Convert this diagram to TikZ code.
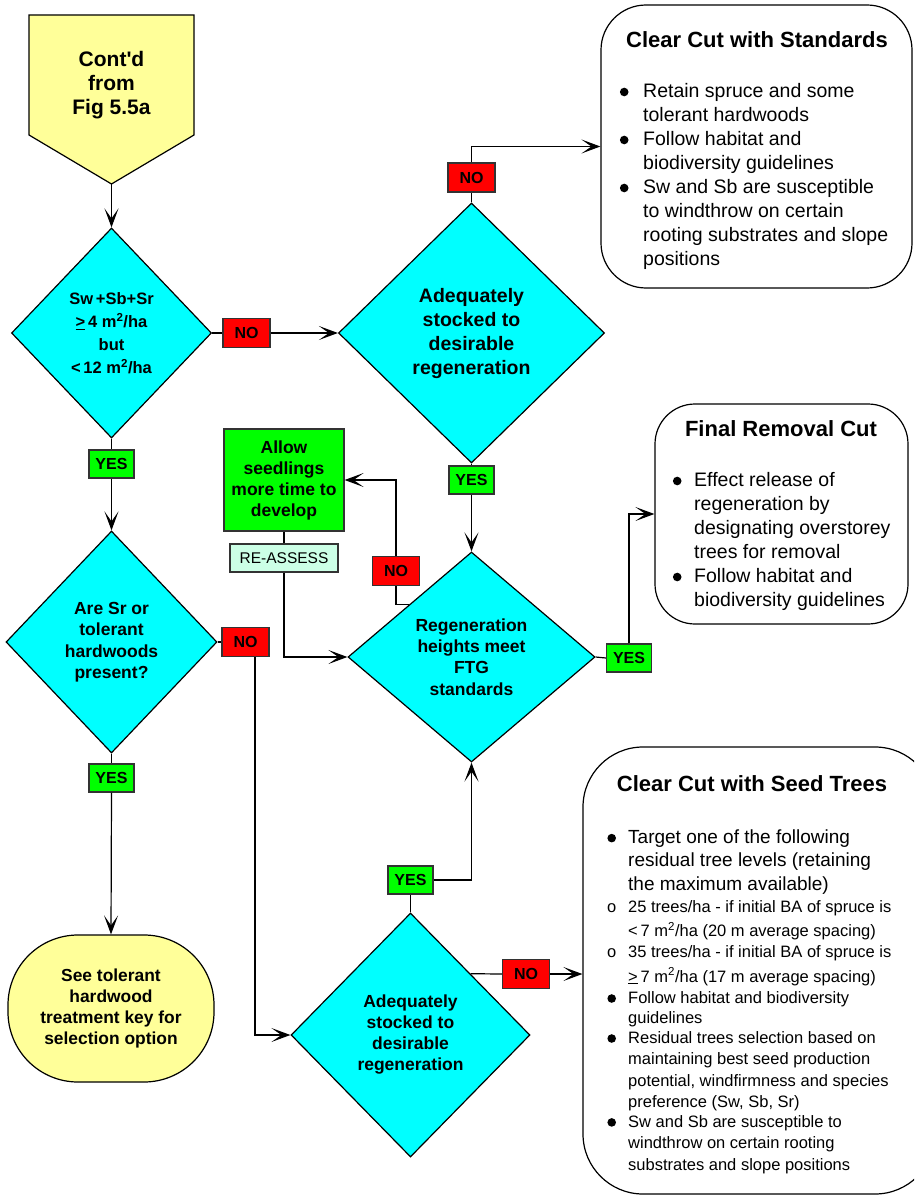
\documentclass[tikz,border=0pt]{standalone}
\usepackage{fontspec}
\setmainfont{Liberation Sans}
\usetikzlibrary{shapes.geometric,arrows.meta}

\definecolor{boxcyan}{RGB}{0,255,255}
\definecolor{boxred}{RGB}{255,0,0}
\definecolor{boxgreen}{RGB}{0,255,0}
\definecolor{paleyellow}{RGB}{255,255,153}
\definecolor{mint}{RGB}{204,255,230}

\newcommand{\fs}[2]{\fontsize{#1}{#2}\selectfont}
\newcommand{\bigdot}{\tikz[baseline=-5pt]\fill (0,0) circle (4.3pt);}
\newcommand{\itemdot}[1]{\makebox[#1]{\bigdot}}

\tikzset{
  decision/.style={diamond, draw, fill=boxcyan, inner sep=0pt, align=center},
  nobox/.style={draw=black!80, fill=boxred, font=\bfseries\fs{16}{18}, inner sep=0pt,
    minimum width=47pt, minimum height=29pt},
  yesbox/.style={nobox, fill=boxgreen, minimum width=45pt, minimum height=28pt},
  outcome/.style={draw, fill=white, rounded corners=45pt},
  boxtitle/.style={font=\bfseries\fs{22}{26}},
  flow/.style={-{Stealth[length=19pt,width=14pt,inset=10pt]}},
}

\begin{document}
\begin{tikzpicture}[x=1pt,y=-1pt,line width=1.2pt]
    \useasboundingbox (0,0) rectangle (914,1196);
    \clip (0,0) rectangle (914,1196);

    % off-page connector
    \draw[fill=paleyellow] (29,15) -- (194,15) -- (194,135) -- (111.5,184) -- (29,135) -- cycle;
    \node[font=\bfseries\fs{21}{24}, align=center] (contd) at (111.5,85) {Cont\textquotesingle d\\from\\Fig 5.5a};
    \coordinate (contdtip) at (111.5,184);

    % decisions
    \node[decision, minimum width=200pt, minimum height=210pt, font=\bfseries\fs{16.5}{23}] (basal) at (111.5,333)
        {Sw\,+Sb+Sr\\\underline{>}\,4 m\textsuperscript{2}/ha\\but\\<\,12 m\textsuperscript{2}/ha};
    \node[decision, minimum width=266pt, minimum height=260pt, font=\bfseries\fs{19.5}{24}] (stocked) at (471.5,333)
        {Adequately\\stocked to\\desirable\\regeneration};
    \node[decision, minimum width=247pt, minimum height=210pt, font=\bfseries\fs{17.5}{21.3}] (heights) at (471.5,657)
        {Regeneration\\heights meet\\FTG\\standards};
    \node[decision, minimum width=211pt, minimum height=222pt, font=\bfseries\fs{17.5}{21.5}] (present) at (111.5,642)
        {Are Sr or\\tolerant\\hardwoods\\present?};
    \node[decision, minimum width=239pt, minimum height=244pt, font=\bfseries\fs{17.5}{21}] (stockedlow) at (410.5,1035)
        {Adequately\\stocked to\\desirable\\regeneration};

    % answers
    \node[nobox] (no1) at (246.5,333) {NO};
    \node[nobox] (no2) at (471.5,177.5) {NO};
    \node[yesbox] (yes2) at (471.5,480) {YES};
    \node[yesbox] (yes1) at (111.5,464) {YES};
    \node[nobox] (no3) at (396,571) {NO};
    \node[yesbox] (yes3) at (629,658) {YES};
    \node[nobox] (no4) at (245.5,642) {NO};
    \node[yesbox] (yes4) at (111.5,778) {YES};
    \node[yesbox] (yes5) at (410.5,880) {YES};
    \node[nobox] (no5) at (526,974) {NO};

    % actions
    \node[draw=black!80, fill=boxgreen, minimum width=120pt, minimum height=102pt, inner sep=0pt, align=center,
        font=\bfseries\fs{17.5}{21}] (allow) at (284,480) {Allow\\seedlings\\more time to\\develop};
    \node[draw=black!80, fill=mint, minimum width=108pt, minimum height=28pt, inner sep=0pt,
        font=\fs{15.5}{18}] (reassess) at (284,558) {RE-ASSESS};
    \node[draw, fill=paleyellow, rounded corners=70pt, minimum width=206pt, minimum height=147pt, inner sep=0pt,
        align=center, font=\bfseries\fs{17.4}{20.8}] (seekey) at (111,1008.5)
        {See tolerant\\hardwood\\treatment key for\\selection option};

    % outcomes
    \node[outcome, minimum width=311pt, minimum height=283pt] (standards) at (756.5,146.5) {};
    \node[boxtitle] (standardstitle) at (757,40) {Clear Cut with Standards};
    \node[anchor=north west, inner sep=0pt, font=\fs{19.5}{24}] (standardslist) at (605,80) {%
        \begin{tabular}{@{}l@{}l@{}}
        \itemdot{38pt} & Retain spruce and some\\
         & tolerant hardwoods\\
        \itemdot{38pt} & Follow habitat and\\
         & biodiversity guidelines\\
        \itemdot{38pt} & Sw and Sb are susceptible\\
         & to windthrow on certain\\
         & rooting substrates and slope\\
         & positions
        \end{tabular}};

    \node[outcome, minimum width=253pt, minimum height=220pt, rounded corners=40pt] (removal) at (781.5,514) {};
    \node[boxtitle] (removaltitle) at (781,429) {Final Removal Cut};
    \node[anchor=north west, inner sep=0pt, font=\fs{19.5}{24}] (removallist) at (660,469) {%
        \begin{tabular}{@{}l@{}l@{}}
        \itemdot{34pt} & Effect release of\\
         & regeneration by\\
         & designating overstorey\\
         & trees for removal\\
        \itemdot{34pt} & Follow habitat and\\
         & biodiversity guidelines
        \end{tabular}};

    \node[outcome, minimum width=352pt, minimum height=447pt, rounded corners=60pt] (seedtrees) at (759,970.5) {};
    \node[boxtitle] (seedtitle) at (752,784) {Clear Cut with Seed Trees};
    \node[anchor=north west, inner sep=0pt, font=\fs{16.5}{21.3}] (seedlist) at (595,828) {%
        \begin{tabular}{@{}l@{}l@{}}
        \itemdot{33pt} & {\fs{19}{21.3}Target one of the following}\\[2.3pt]
         & {\fs{19}{21.3}residual tree levels (retaining}\\[2.3pt]
         & {\fs{19}{21.3}the maximum available)}\\[1.1pt]
        \makebox[33pt]{o} & 25 trees/ha - if initial BA of spruce is\\[2.3pt]
         & <\,7 m\textsuperscript{2}/ha (20 m average spacing)\\
        \makebox[33pt]{o} & 35 trees/ha - if initial BA of spruce is\\[3.3pt]
         & \underline{>}\,7 m\textsuperscript{2}/ha (17 m average spacing)\\
        \itemdot{33pt} & Follow habitat and biodiversity\\[-1.3pt]
         & guidelines\\[-1.3pt]
        \itemdot{33pt} & Residual trees selection based on\\
         & maintaining best seed production\\
         & potential, windfirmness and species\\
         & preference (Sw, Sb, Sr)\\[-1.3pt]
        \itemdot{33pt} & Sw and Sb are susceptible to\\
         & windthrow on certain rooting\\
         & substrates and slope positions
        \end{tabular}};

    % connectors
    \draw[flow] (contdtip) -- (basal.north);
    \draw (basal.east) -- (no1.west);
    \draw[flow] (no1.east) -- (stocked.west);
    \draw (stocked.north) -- (no2.south);
    \draw[flow] (no2.north) |- (standards.west);
    \draw (stocked.south) -- (yes2.north);
    \draw[flow] (yes2.south) -- (heights.north);
    \draw (basal.south) -- (yes1.north);
    \draw[flow] (yes1.south) -- (present.north);
    \draw (heights.east) -- (yes3.west);
    \draw[flow] (yes3.north) |- (removal.west);
    \draw (heights.north west) -| (no3.south);
    \draw[flow] (no3.north) |- (allow.east);
    \draw (allow.south) -- (reassess.north);
    \draw[flow] (reassess.south) |- (heights.west);
    \draw (present.east) -- (no4.west);
    \coordinate (no4drop) at ([xshift=9.5pt]no4.south);
    \draw[flow] (no4drop) |- (stockedlow.west);
    \draw (present.south) -- (yes4.north);
    \draw[flow] (yes4.south) -- (seekey.north);
    \draw (stockedlow.north) -- (yes5.south);
    \draw[flow] (yes5.east) -| (heights.south);
    \draw (stockedlow.north east) -- (no5.west);
    \draw[flow] (no5.east) -- (no5.east -| seedtrees.west);
\end{tikzpicture}
\end{document}
